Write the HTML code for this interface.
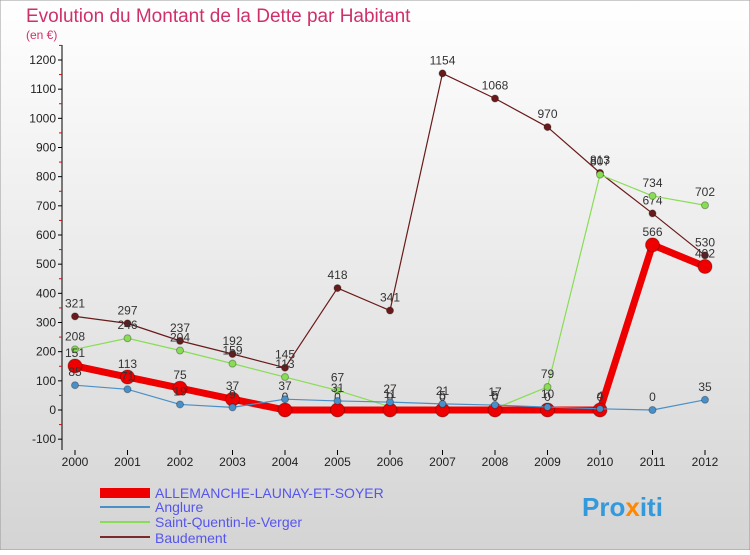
<!DOCTYPE html>
<html><head><meta charset="utf-8"><style>
body{margin:0;width:750px;height:550px;overflow:hidden;font-family:"Liberation Sans",sans-serif}
svg text{font-family:"Liberation Sans",sans-serif}
</style></head><body>
<svg id="c" width="750" height="550">
<defs><linearGradient id="bg" x1="0" y1="0" x2="0" y2="1"><stop offset="0" stop-color="#ffffff"/><stop offset="1" stop-color="#d4d4d4"/></linearGradient></defs>
<rect width="750" height="550" fill="url(#bg)" stroke="#999"/>
<text x="26" y="22" font-size="19" fill="#d0306a">Evolution du Montant de la Dette par Habitant</text>
<text x="26" y="39" font-size="12" fill="#d0306a">(en €)</text>
<g id="plot"></g>
<g>
<rect x="100" y="488" width="50" height="10" fill="#ee0000"/>
<text x="155" y="498" font-size="14" fill="#5555ee">ALLEMANCHE-LAUNAY-ET-SOYER</text>
<rect x="100" y="506" width="50" height="2" fill="#4a90c8"/>
<text x="155" y="512" font-size="14" fill="#5555ee">Anglure</text>
<rect x="100" y="521" width="50" height="2" fill="#88dd55"/>
<text x="155" y="527" font-size="14" fill="#5555ee">Saint-Quentin-le-Verger</text>
<rect x="100" y="536" width="50" height="2" fill="#7a2a2a"/>
<text x="155" y="543" font-size="14" fill="#5555ee">Baudement</text>
</g>
<text x="582" y="516" font-size="26" font-weight="bold" fill="#3399dd">Pro<tspan fill="#ff8800">x</tspan>iti</text>
</svg>
<script>
const years=[2000,2001,2002,2003,2004,2005,2006,2007,2008,2009,2010,2011,2012];
const yTicks=[-100,0,100,200,300,400,500,600,700,800,900,1000,1100,1200];
const allemanche=[151,113,75,37,0,0,0,0,0,0,0,566,492];
const anglure=[85,71,19,9,37,31,27,21,17,10,4,0,35];
const saintQuentin=[208,246,204,159,113,67,11,5,5,79,807,734,702];
const baudement=[321,297,237,192,145,418,341,1154,1068,970,813,674,530];
const NS="http://www.w3.org/2000/svg";
const g=document.getElementById('plot');
function sx(i){return 75+i*52.5;}
function sy(v){return 410-v*0.29167;}
function mk(t,a){const e=document.createElementNS(NS,t);for(const k in a)e.setAttribute(k,a[k]);g.appendChild(e);return e;}
let ax=mk('line',{x1:62,y1:45,x2:62,y2:450,stroke:'#000'});


yTicks.forEach(v=>{
 mk('line',{x1:58,x2:62,y1:sy(v),y2:sy(v),stroke:'#000'});
 mk('line',{x1:59,x2:62,y1:sy(v+50),y2:sy(v+50),stroke:'#e00'});
 let t=mk('text',{x:56,y:sy(v)+4,'font-size':12,'text-anchor':'end',fill:'#222'});t.textContent=v;
 
 
});
years.forEach((y,i)=>{
 mk('line',{x1:sx(i),x2:sx(i),y1:450,y2:455,stroke:'#000'});
 let t=mk('text',{x:sx(i),y:466,'font-size':12,'text-anchor':'middle',fill:'#222'});t.textContent=y;
 
 
});
function series(data,color,w,rad,name){
 let p=mk('polyline',{points:data.map((v,i)=>sx(i)+','+sy(v)).join(' '),fill:'none',stroke:color,'stroke-width':w,'stroke-linejoin':'round'});
 
 
 data.forEach((v,i)=>{
  let c=mk('circle',{cx:sx(i),cy:sy(v),r:rad,fill:color,stroke:'rgba(0,0,0,0.3)'});
  
  
  let t=mk('text',{x:sx(i),y:sy(v)-9,'font-size':12,'text-anchor':'middle',fill:'#333'});t.textContent=v;
  
  
 });
}
series(baudement,'#6a1a1a',1.2,3.5,'baudement');
series(saintQuentin,'#88dd55',1.2,3.5,'saint-quentin');
series(allemanche,'#ee0000',7,7,'allemanche');
series(anglure,'#4a90c8',1.2,3.5,'anglure');
</script>
</body></html>
